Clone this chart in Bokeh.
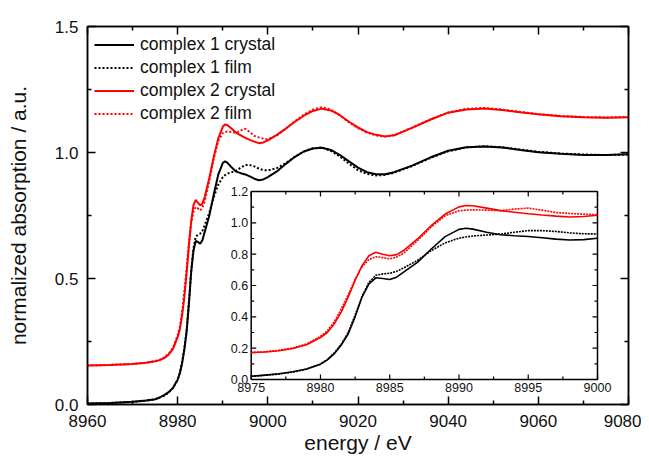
import numpy as np
from bokeh.plotting import figure
from bokeh.models import (Range1d, LinearAxis, FixedTicker, Legend, LegendItem,
                          CustomJSTickFormatter, NumeralTickFormatter)
from bokeh.core.properties import value
from bokeh.embed import file_html
from bokeh.resources import INLINE

# ---------------- data ----------------
energy = [8960, 8965, 8970, 8973, 8975, 8976, 8977, 8978, 8979, 8980,
          8980.5, 8981, 8981.5, 8982, 8982.5, 8983, 8983.5, 8984, 8984.5, 8985,
          8985.5, 8986, 8987, 8988, 8989, 8990, 8990.5, 8991, 8992, 8993,
          8994, 8995, 8996, 8997, 8998, 8999, 9000, 9002, 9004, 9006,
          9008, 9010, 9012, 9014, 9016, 9018, 9020, 9022, 9024, 9026,
          9028, 9032, 9036, 9040, 9044, 9048, 9052, 9056, 9060, 9065,
          9070, 9075, 9080]

c1_crystal = [0.004, 0.006, 0.011, 0.016, 0.021, 0.028, 0.037, 0.049, 0.067, 0.098,
              0.125, 0.165, 0.220, 0.290, 0.400, 0.526, 0.610, 0.649, 0.645, 0.638,
              0.653, 0.685, 0.748, 0.833, 0.912, 0.958, 0.965, 0.960, 0.940, 0.924,
              0.918, 0.913, 0.905, 0.896, 0.890, 0.893, 0.902, 0.925, 0.955, 0.983,
              1.004, 1.016, 1.019, 1.010, 0.990, 0.965, 0.940, 0.922, 0.914, 0.914,
              0.922, 0.948, 0.980, 1.007, 1.021, 1.024, 1.020, 1.010, 1.001, 0.995,
              0.990, 0.990, 0.993]

c1_film = [0.004, 0.006, 0.010, 0.015, 0.020, 0.027, 0.035, 0.047, 0.066, 0.098,
           0.128, 0.170, 0.225, 0.300, 0.410, 0.530, 0.620, 0.665, 0.674, 0.678,
           0.690, 0.712, 0.760, 0.823, 0.872, 0.902, 0.910, 0.916, 0.922, 0.928,
           0.940, 0.950, 0.950, 0.945, 0.936, 0.930, 0.929, 0.938, 0.958, 0.983,
           1.004, 1.017, 1.020, 1.006, 0.984, 0.955, 0.930, 0.915, 0.909, 0.911,
           0.920, 0.946, 0.978, 1.005, 1.020, 1.025, 1.021, 1.012, 1.003, 0.996,
           0.992, 0.990, 0.992]

c2_crystal = [0.155, 0.157, 0.161, 0.166, 0.172, 0.176, 0.184, 0.198, 0.222, 0.268,
              0.300, 0.356, 0.430, 0.526, 0.632, 0.727, 0.790, 0.812, 0.800, 0.790,
              0.797, 0.823, 0.897, 0.982, 1.056, 1.102, 1.111, 1.109, 1.094, 1.078,
              1.068, 1.058, 1.050, 1.043, 1.037, 1.040, 1.048, 1.070, 1.095, 1.122,
              1.146, 1.165, 1.174, 1.167, 1.148, 1.122, 1.100, 1.081, 1.070, 1.064,
              1.068, 1.098, 1.130, 1.158, 1.171, 1.175, 1.169, 1.160, 1.152, 1.144,
              1.140, 1.138, 1.140]

c2_film = [0.155, 0.157, 0.161, 0.166, 0.172, 0.177, 0.186, 0.201, 0.227, 0.275,
           0.310, 0.370, 0.450, 0.540, 0.640, 0.720, 0.765, 0.784, 0.778, 0.770,
           0.782, 0.806, 0.886, 0.975, 1.045, 1.077, 1.081, 1.083, 1.081, 1.078,
           1.088, 1.094, 1.081, 1.066, 1.060, 1.055, 1.052, 1.068, 1.095, 1.124,
           1.150, 1.170, 1.180, 1.170, 1.147, 1.120, 1.097, 1.079, 1.068, 1.063,
           1.068, 1.099, 1.131, 1.159, 1.173, 1.177, 1.170, 1.161, 1.152, 1.145,
           1.141, 1.139, 1.141]

series_labels = ["complex 1 crystal", "complex 1 film", "complex 2 crystal", "complex 2 film"]

x_ticks = [8960, 8980, 9000, 9020, 9040, 9060, 9080]
x_minor = [8970, 8990, 9010, 9030, 9050, 9070]
y_ticks = [0.0, 0.5, 1.0, 1.5]
y_minor = [0.25, 0.75, 1.25]

inset_x_range = (8975, 9000)
inset_y_range = (0.0, 1.2)
inset_x_ticks = [8975, 8980, 8985, 8990, 8995, 9000]
inset_x_labels = ["8975", "8980", "8985", "8990", "8995", "9000"]
inset_x_minor = [8977.5, 8982.5, 8987.5, 8992.5, 8997.5]
inset_y_ticks = [0.0, 0.2, 0.4, 0.6, 0.8, 1.0, 1.2]
inset_y_labels = ["0.0", "0.2", "0.4", "0.6", "0.8", "1.0", "1.2"]
inset_y_minor = [0.1, 0.3, 0.5, 0.7, 0.9, 1.1]

# ---------------- layout ----------------
W, H = 641, 456
BL, BR, BT, BB = 87, 13, 26, 52
FW, FH = W - BL - BR, H - BT - BB
# inset box in pixels relative to frame (left/right from frame left, bottom/top from frame bottom)
IN_L, IN_R, IN_B, IN_T = 163.7, 510.0, 25.0, 213.0

FONT = "Liberation Sans"
RED = "#ff0000"
BLACK = "#000000"

p = figure(width=W, height=H, x_range=Range1d(8960, 9080), y_range=Range1d(0, 1.5),
           output_backend="svg", toolbar_location=None,
           min_border_left=BL, min_border_right=BR, min_border_top=BT, min_border_bottom=BB,
           x_axis_label="energy / eV", y_axis_label="normalized absorption / a.u.")
p.grid.visible = False
p.outline_line_color = BLACK
p.outline_line_width = 1.5
p.background_fill_color = "white"
p.border_fill_color = "white"

xt = FixedTicker(ticks=x_ticks, minor_ticks=x_minor)
yt = FixedTicker(ticks=y_ticks, minor_ticks=y_minor)
p.xaxis.ticker = xt
p.yaxis.ticker = yt
p.yaxis.formatter = NumeralTickFormatter(format="0.0")

def style_axis(ax, show_labels=True):
    ax.axis_line_width = 1.5
    ax.axis_line_color = BLACK
    ax.major_tick_in = 8
    ax.major_tick_out = 0
    ax.minor_tick_in = 4
    ax.minor_tick_out = 0
    ax.major_tick_line_width = 1.5
    ax.minor_tick_line_width = 1.5
    ax.major_tick_line_color = BLACK
    ax.minor_tick_line_color = BLACK
    if show_labels:
        ax.major_label_text_font = FONT
        ax.major_label_text_font_size = "17px"
        ax.major_label_text_color = "#111111"
        ax.major_label_standoff = 9
        ax.axis_label_text_font = FONT
        ax.axis_label_text_font_size = "21px"
        ax.axis_label_text_font_style = "normal"
        ax.axis_label_text_color = "#111111"
    else:
        ax.major_label_text_font_size = "1px"
        ax.major_label_standoff = 0
        ax.formatter = CustomJSTickFormatter(code="return ''")

for ax in p.xaxis:
    style_axis(ax)
    ax.major_label_standoff = 10
    ax.axis_label_standoff = 1
for ax in p.yaxis:
    style_axis(ax)
    ax.axis_label_standoff = 22

top_ax = LinearAxis(ticker=FixedTicker(ticks=x_ticks, minor_ticks=x_minor))
style_axis(top_ax, show_labels=False)
p.add_layout(top_ax, "above")
right_ax = LinearAxis(ticker=FixedTicker(ticks=y_ticks, minor_ticks=y_minor))
style_axis(right_ax, show_labels=False)
p.add_layout(right_ax, "right")

# ---------------- main curves ----------------
r1 = p.line(energy, c1_crystal, line_color=BLACK, line_width=2)
r2 = p.line(energy, c1_film, line_color=BLACK, line_width=2, line_dash="2 2")
r3 = p.line(energy, c2_crystal, line_color=RED, line_width=2)
r4 = p.line(energy, c2_film, line_color=RED, line_width=2, line_dash="2 2")

legend = Legend(items=[LegendItem(label=series_labels[0], renderers=[r1]),
                       LegendItem(label=series_labels[1], renderers=[r2]),
                       LegendItem(label=series_labels[2], renderers=[r3]),
                       LegendItem(label=series_labels[3], renderers=[r4])],
                location="top_left", border_line_alpha=0, background_fill_alpha=0,
                label_text_font=FONT, label_text_font_size="17.5px", label_text_color="#111111",
                glyph_width=40, glyph_height=23, label_height=23, spacing=0,
                padding=7, margin=0, label_standoff=6)
p.add_layout(legend)

# ---------------- inset (extra ranges mapped onto a sub-box of the frame) ----------------
ix0, ix1 = inset_x_range
iy0, iy1 = inset_y_range
kx = (IN_R - IN_L) / (ix1 - ix0)   # px per eV
ky = (IN_T - IN_B) / (iy1 - iy0)   # px per unit
ixs = ix0 - IN_L / kx
iys = iy0 - IN_B / ky
p.extra_x_ranges = {"ix": Range1d(ixs, ixs + FW / kx)}
p.extra_y_ranges = {"iy": Range1d(iys, iys + FH / ky)}
RN = dict(x_range_name="ix", y_range_name="iy")

p.quad(left=[ix0], right=[ix1], bottom=[iy0], top=[iy1], fill_color="white",
       line_color=BLACK, line_width=1.5, **RN)

E = np.array(energy)
m = (E >= ix0) & (E <= ix1)
p.line(E[m], np.array(c1_crystal)[m], line_color=BLACK, line_width=1.6, **RN)
p.line(E[m], np.array(c1_film)[m], line_color=BLACK, line_width=1.6, line_dash="2 1", **RN)
p.line(E[m], np.array(c2_crystal)[m], line_color=RED, line_width=1.6, **RN)
p.line(E[m], np.array(c2_film)[m], line_color=RED, line_width=1.6, line_dash="2 1", **RN)

# inset ticks (inward)
maj, mnr = 5, 3
tx = np.array(inset_x_ticks, dtype=float)
txm = np.array(inset_x_minor, dtype=float)
ty = np.array(inset_y_ticks, dtype=float)
tym = np.array(inset_y_minor, dtype=float)
tk = dict(line_color=BLACK, line_width=1.2, **RN)
for xs, ln in ((tx, maj), (txm, mnr)):
    p.segment(x0=xs, x1=xs, y0=np.full(len(xs), iy0), y1=np.full(len(xs), iy0 + ln / ky), **tk)
    p.segment(x0=xs, x1=xs, y0=np.full(len(xs), iy1), y1=np.full(len(xs), iy1 - ln / ky), **tk)
for ys, ln in ((ty, maj), (tym, mnr)):
    p.segment(x0=np.full(len(ys), ix0), x1=np.full(len(ys), ix0 + ln / kx), y0=ys, y1=ys, **tk)
    p.segment(x0=np.full(len(ys), ix1), x1=np.full(len(ys), ix1 - ln / kx), y0=ys, y1=ys, **tk)

p.text(x=inset_x_ticks, y=[iy0] * len(inset_x_ticks), text=inset_x_labels,
       text_align="center", text_baseline="top", y_offset=3,
       text_font=value(FONT), text_font_size="12.5px", text_color="#111111", **RN)
p.text(x=[ix0] * len(inset_y_ticks), y=inset_y_ticks, text=inset_y_labels,
       text_align="right", text_baseline="middle", x_offset=-3,
       text_font=value(FONT), text_font_size="12.5px", text_color="#111111", **RN)

open("out.html", "w").write(file_html(p, INLINE))
